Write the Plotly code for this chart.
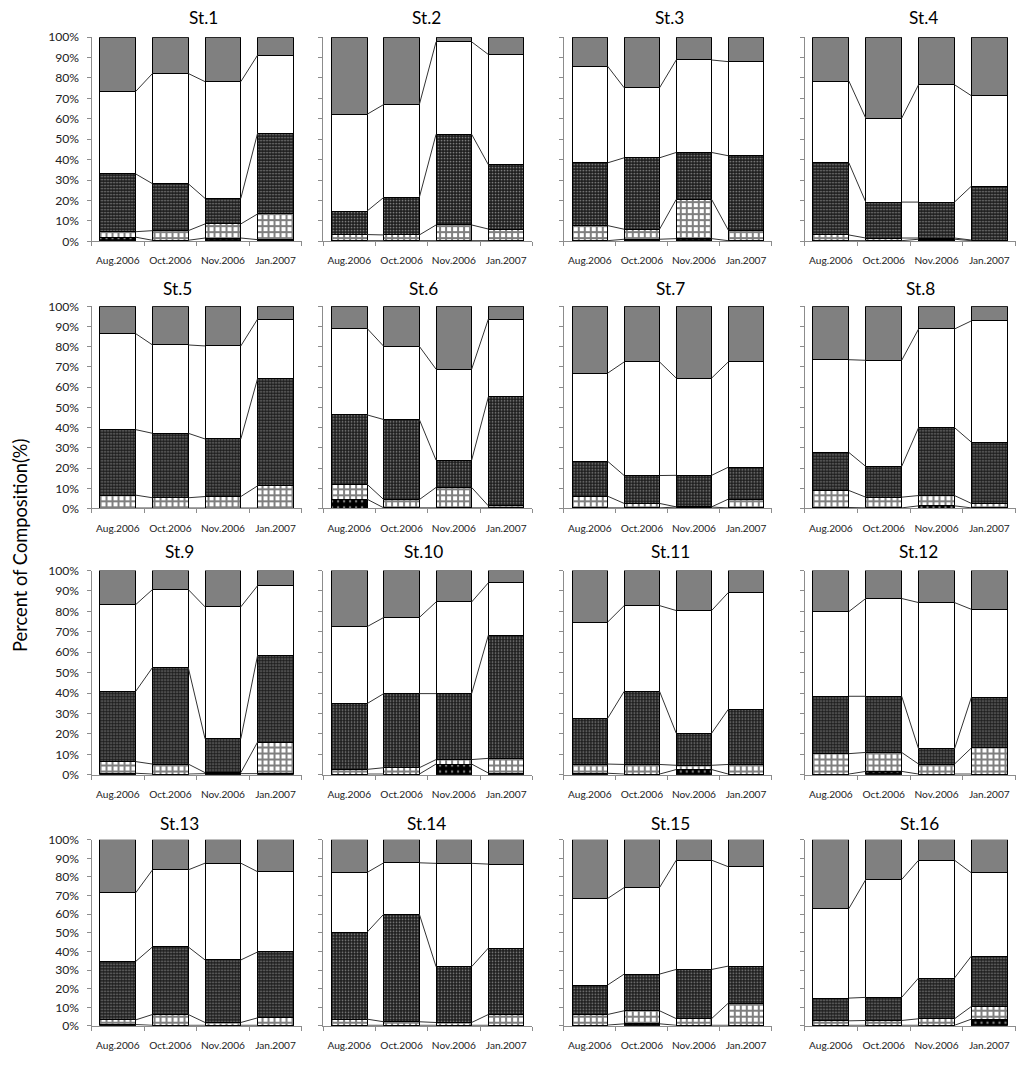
import plotly.graph_objects as go

months = ["Aug.2006", "Oct.2006", "Nov.2006", "Jan.2007"]
stations = [f"St.{i}" for i in range(1, 17)]

# Percent composition of each component, per station, per month (bottom -> top)
black_pct = [
    [2.0, 0.5, 1.6, 0.8], [0.3, 0.3, 0.3, 0.3], [0.3, 1.0, 1.3, 0.3], [0.3, 0.3, 1.0, 0.3],
    [0.2, 0.2, 0.2, 0.2], [4.6, 0.3, 0.3, 0.3], [0.3, 0.3, 0.7, 0.3], [0.5, 0.3, 1.3, 0.3],
    [0.7, 0.3, 0.5, 0.5], [0.3, 0.3, 5.2, 0.8], [0.7, 0.3, 2.5, 0.3], [0.3, 1.6, 0.3, 0.3],
    [0.7, 0.3, 0.3, 0.3], [0.3, 0.3, 0.3, 0.3], [0.4, 1.1, 0.3, 0.3], [0.3, 0.3, 0.3, 3.6],
]
brick_pct = [
    [2.7, 4.7, 6.9, 12.6], [3.0, 2.8, 7.7, 5.7], [7.4, 4.9, 19.2, 5.2], [2.8, 1.3, 0.6, 0.3],
    [6.4, 5.1, 5.7, 11.0], [7.4, 4.1, 10.1, 1.0], [5.8, 2.2, 0.1, 4.3], [8.4, 5.3, 5.1, 2.2],
    [5.7, 4.9, 0.5, 15.5], [2.3, 3.1, 2.2, 7.2], [4.5, 4.7, 2.1, 4.7], [10.0, 9.3, 4.9, 12.8],
    [2.5, 5.8, 1.5, 4.0], [3.3, 1.9, 1.5, 5.8], [5.7, 7.0, 3.6, 11.9], [2.4, 2.6, 3.5, 6.8],
]
cross_pct = [
    [28.3, 23.0, 12.5, 39.6], [11.5, 18.4, 44.4, 31.5], [30.7, 35.0, 23.0, 36.4], [35.3, 17.6, 17.6, 26.4],
    [32.4, 31.9, 28.5, 53.1], [34.3, 39.6, 13.5, 53.9], [17.3, 13.8, 15.6, 15.8], [18.8, 15.2, 33.6, 30.3],
    [34.4, 47.3, 16.6, 42.5], [32.2, 36.3, 32.3, 60.3], [22.3, 35.8, 15.7, 27.0], [28.1, 27.5, 7.4, 24.8],
    [31.4, 36.3, 33.6, 35.4], [46.7, 57.8, 30.0, 35.7], [15.8, 19.7, 26.4, 19.9], [12.2, 12.4, 21.9, 27.1],
]
white_pct = [
    [40.4, 54.0, 57.2, 38.2], [47.4, 45.5, 45.3, 54.0], [47.4, 34.3, 45.3, 46.1], [40.1, 41.1, 57.5, 44.3],
    [47.5, 43.7, 46.0, 29.4], [42.8, 36.2, 45.0, 38.5], [43.5, 56.2, 48.1, 52.1], [45.9, 52.5, 48.8, 60.0],
    [42.5, 38.2, 64.6, 34.1], [37.7, 37.3, 44.9, 25.7], [47.2, 42.0, 60.1, 57.2], [41.5, 47.9, 71.7, 43.1],
    [36.9, 41.4, 52.0, 43.1], [32.1, 27.6, 55.5, 45.1], [46.5, 46.5, 58.7, 53.4], [48.1, 63.3, 63.3, 44.7],
]
gray_pct = [
    [26.6, 17.8, 21.8, 8.8], [37.8, 33.0, 2.3, 8.5], [14.2, 24.8, 11.2, 12.0], [21.5, 39.7, 23.3, 28.7],
    [13.5, 19.1, 19.6, 6.3], [10.9, 19.8, 31.1, 6.3], [33.1, 27.5, 35.6, 27.5], [26.4, 26.7, 11.2, 7.2],
    [16.7, 9.3, 17.8, 7.4], [27.5, 23.0, 15.4, 6.0], [25.3, 17.2, 19.6, 10.8], [20.1, 13.7, 15.7, 19.0],
    [28.5, 16.2, 12.6, 17.2], [17.6, 12.4, 12.7, 13.1], [31.6, 25.7, 11.0, 14.5], [37.0, 21.4, 11.0, 17.8],
]
y_ticks = [0, 10, 20, 30, 40, 50, 60, 70, 80, 90, 100]

components = [
    dict(name="black", data=black_pct, color="#000000",
         pattern=dict(shape=".", fgcolor="#ffffff", size=6, solidity=0.12)),
    dict(name="brick", data=brick_pct, color="#ffffff",
         pattern=dict(shape="+", fgcolor="#000000", size=6, solidity=0.55)),
    dict(name="cross", data=cross_pct, color="#1e1e1e",
         pattern=dict(shape=".", fgcolor="#ffffff", size=3, solidity=0.25)),
    dict(name="white", data=white_pct, color="#ffffff", pattern=None),
    dict(name="gray", data=gray_pct, color="#808080", pattern=None),
]

W, H = 1024, 1074
# observed page placement: 8px body margin and a slight overall downscale
OFF = 8
SX, SY = 1024 / 1040, 1074 / 1090
col_px = [(98, 305), (326, 532), (563, 768), (800, 1008)]
row_px = [(37, 241), (306, 508), (570, 774), (839, 1025)]
title_x = [[208, 428, 667, 917], [183, 425, 668, 914], [185, 425, 668, 912], [185, 428, 668, 913]]
title_y = [17, 288, 551, 823]
FONT = "Lato, Open Sans, sans-serif"
FS = 1 / SX


def px_x(v):
    return (v / SX - OFF) / W


def px_y(v):
    return 1 - (v / SY - OFF) / H


BAR_W = 0.68
fig = go.Figure()
annotations = []
xpos = list(range(len(months)))

for s in range(16):
    r, c = divmod(s, 4)
    n = s + 1
    xa = "x" if n == 1 else f"x{n}"
    ya = "y" if n == 1 else f"y{n}"
    for comp in components:
        marker = dict(color=comp["color"], line=dict(color="#000000", width=1))
        if comp["pattern"]:
            marker["pattern"] = dict(fillmode="overlay", **comp["pattern"])
        fig.add_trace(go.Bar(x=xpos, y=comp["data"][s], width=BAR_W, marker=marker,
                             xaxis=xa, yaxis=ya, showlegend=False, hoverinfo="skip"))
    # series lines between the bars
    lx, ly = [], []
    cum = [0.0] * 4
    for comp in components[:4]:
        cum = [cum[i] + comp["data"][s][i] for i in range(4)]
        for i in range(3):
            lx += [xpos[i] + BAR_W / 2, xpos[i + 1] - BAR_W / 2, None]
            ly += [cum[i], cum[i + 1], None]
    fig.add_trace(go.Scatter(x=lx, y=ly, mode="lines", line=dict(color="#333333", width=1),
                             xaxis=xa, yaxis=ya, showlegend=False, hoverinfo="skip"))

    x0, x1 = col_px[c]
    y0, y1 = row_px[r]
    fig.layout[("xaxis" if n == 1 else f"xaxis{n}")] = dict(
        domain=[px_x(x0), px_x(x1)], anchor=ya, range=[-0.5, 3.5],
        tickmode="array", tickvals=xpos, ticktext=months, ticks="",
        ticklabelstandoff=10,
        tickfont=dict(size=10 * FS, color="#222222", family=FONT),
        showline=True, linecolor="#8c8c8c", linewidth=1, showgrid=False, zeroline=False,
        minor=dict(ticks="outside", tickmode="array", tickvals=[-0.5, 0.5, 1.5, 2.5, 3.5],
                   ticklen=4, tickcolor="#8c8c8c", showgrid=False),
        fixedrange=True,
    )
    fig.layout[("yaxis" if n == 1 else f"yaxis{n}")] = dict(
        domain=[px_y(y1), px_y(y0)], anchor=xa, range=[0, 100],
        tickmode="array", tickvals=y_ticks, ticktext=[f"{v}%" for v in y_ticks],
        showticklabels=(c == 0), ticks="outside", ticklen=4, tickcolor="#8c8c8c",
        ticklabelstandoff=5,
        tickfont=dict(size=12 * FS, color="#222222", family=FONT),
        showline=True, linecolor="#8c8c8c", linewidth=1, showgrid=False, zeroline=False,
        fixedrange=True,
    )
    annotations.append(dict(text=stations[s], x=px_x(title_x[r][c]), y=px_y(title_y[r]),
                            xref="paper", yref="paper", showarrow=False,
                            xanchor="center", yanchor="middle",
                            font=dict(size=17 * FS, color="#000000", family=FONT)))

annotations.append(dict(text="Percent of Composition(%)", x=px_x(27), y=px_y(545),
                        xref="paper", yref="paper", showarrow=False, textangle=-90,
                        xanchor="center", yanchor="middle",
                        font=dict(size=18 * FS, color="#000000", family=FONT)))

fig.update_layout(
    width=W, height=H, margin=dict(l=0, r=0, t=0, b=0),
    barmode="stack", bargap=0.32,
    paper_bgcolor="white", plot_bgcolor="white",
    annotations=annotations,
)

fig.write_html("out.html")
